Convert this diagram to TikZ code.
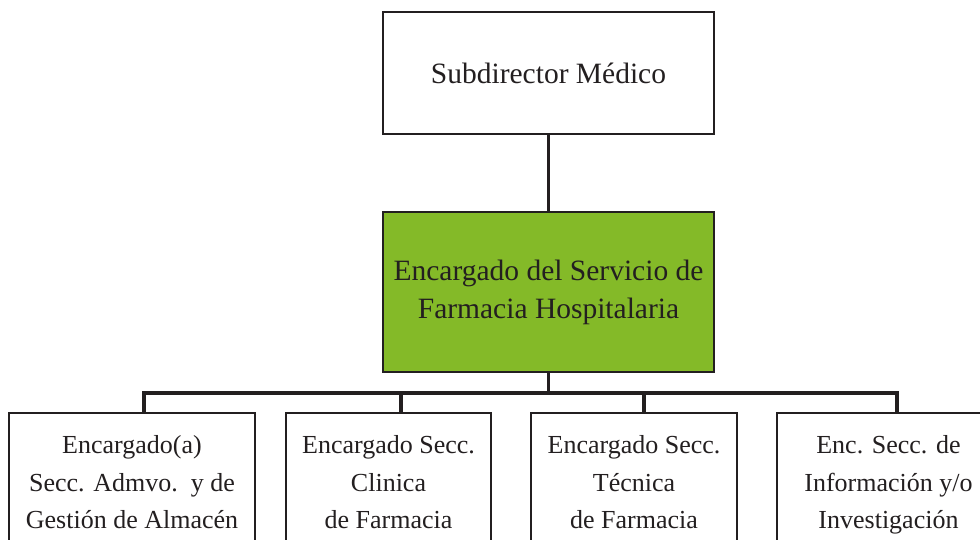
\documentclass[tikz,border=0pt]{standalone}
\usepackage{fontspec}
\setmainfont{Liberation Serif}
\definecolor{boxgreen}{RGB}{132,186,40}
\definecolor{ink}{RGB}{35,31,32}
\begin{document}
\begin{tikzpicture}[x=1pt,y=-1pt,
  topbox/.style={draw=ink,line width=2pt,fill=white,minimum width=331pt,minimum height=122pt,
    font=\fontsize{29.5}{38}\selectfont,text=ink,inner sep=0pt},
  mainbox/.style={topbox,fill=boxgreen,minimum height=160pt,align=center},
  unitbox/.style={draw=ink,line width=2pt,fill=white,anchor=north,minimum height=146pt,
    align=center,font=\fontsize{26}{37.5}\selectfont,text=ink,inner sep=0pt,
    text height=93pt,text depth=8pt},
  link/.style={draw=ink,line width=3.2pt}]
\useasboundingbox (0,0) rectangle (980,540);
\node[topbox] (sub) at (548.5,73) {Subdirector Médico};
\node[mainbox] (farm) at (548.5,292) {Encargado del Servicio de\\Farmacia Hospitalaria};
\node[unitbox,minimum width=246pt] (u1) at (132,412) {Encargado(a)\\Secc. Admvo.\ \ y de\\Gestión de Almacén};
\node[unitbox,minimum width=205pt] (u2) at (388.5,412) {Encargado Secc.\\Clinica\\de Farmacia};
\node[unitbox,minimum width=206pt] (u3) at (634,412) {Encargado Secc.\\Técnica\\de Farmacia};
\node[unitbox,minimum width=223pt] (u4) at (888.5,412) {Enc. Secc. de\\Información y/o\\Investigación};
\coordinate (bus) at (548.5,393);
\coordinate (j1) at (144,393);
\coordinate (j2) at (401,393);
\coordinate (j3) at (644,393);
\coordinate (j4) at (897,393);
\draw[link] (sub.south) -- (farm.north);
\draw[link] (farm.south) -- (bus);
\draw[link,line cap=rect] (j1) -- (j4);
\draw[link] (j1) -- (j1 |- u1.north);
\draw[link] (j2) -- (j2 |- u2.north);
\draw[link] (j3) -- (j3 |- u3.north);
\draw[link] (j4) -- (j4 |- u4.north);
\end{tikzpicture}
\end{document}
